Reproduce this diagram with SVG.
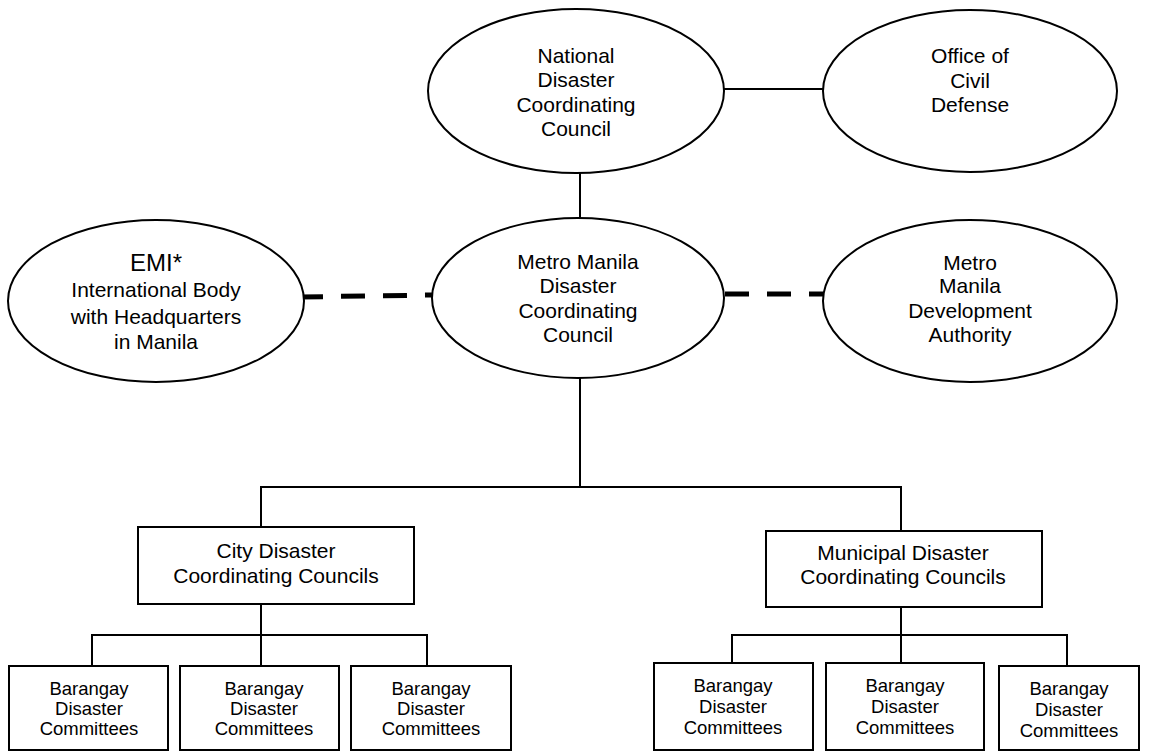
<svg xmlns="http://www.w3.org/2000/svg" width="1150" height="753" viewBox="0 0 1150 753">
<style>
.shape{fill:#fff;stroke:#000;stroke-width:2}
.ln{stroke:#000;stroke-width:2;fill:none}
.dash{stroke:#000;stroke-width:5;stroke-dasharray:24 18;fill:none}
text{font-family:"Liberation Sans",Arial,sans-serif;fill:#000;text-anchor:middle}
.t21{font-size:21px}
.t24{font-size:24px}
.t18{font-size:18.5px}
</style>
<rect width="1150" height="753" fill="#fff"/>
<g id="connectors">
<line class="ln" x1="723" y1="89" x2="823" y2="89"/>
<line class="ln" x1="580" y1="172" x2="580" y2="220"/>
<line class="dash" x1="299" y1="297" x2="432" y2="295"/>
<line class="dash" x1="725" y1="294" x2="823" y2="294"/>
<line class="ln" x1="580" y1="376" x2="580" y2="487"/>
<polyline class="ln" points="261,527 261,487 901,487 901,531"/>
<line class="ln" x1="261" y1="604" x2="261" y2="635"/>
<polyline class="ln" points="92,666 92,635 427,635 427,666"/>
<line class="ln" x1="261" y1="635" x2="261" y2="666"/>
<line class="ln" x1="901" y1="607" x2="901" y2="635"/>
<polyline class="ln" points="732,663 732,635 1067,635 1067,666"/>
<line class="ln" x1="901" y1="635" x2="901" y2="663"/>
</g>
<g id="ndcc">
<ellipse class="shape" cx="576" cy="91" rx="148" ry="82"/>
<text class="t21"><tspan x="576" y="63">National</tspan><tspan x="576" y="87">Disaster</tspan><tspan x="576" y="112">Coordinating</tspan><tspan x="576" y="136">Council</tspan></text>
</g>
<g id="ocd">
<ellipse class="shape" cx="970" cy="91" rx="147" ry="81"/>
<text class="t21"><tspan x="970" y="63">Office of</tspan><tspan x="970" y="88">Civil</tspan><tspan x="970" y="112">Defense</tspan></text>
</g>
<g id="emi">
<ellipse class="shape" cx="156" cy="301" rx="148" ry="81"/>
<text class="t24" x="156" y="271">EMI*</text>
<text class="t21"><tspan x="156" y="297">International Body</tspan><tspan x="156" y="324">with Headquarters</tspan><tspan x="156" y="349">in Manila</tspan></text>
</g>
<g id="mmdcc">
<ellipse class="shape" cx="578" cy="298" rx="146" ry="80"/>
<text class="t21"><tspan x="578" y="269">Metro Manila</tspan><tspan x="578" y="293">Disaster</tspan><tspan x="578" y="318">Coordinating</tspan><tspan x="578" y="342">Council</tspan></text>
</g>
<g id="mmda">
<ellipse class="shape" cx="970" cy="301" rx="147" ry="81"/>
<text class="t21"><tspan x="970" y="270">Metro</tspan><tspan x="970" y="293">Manila</tspan><tspan x="970" y="318">Development</tspan><tspan x="970" y="342">Authority</tspan></text>
</g>
<g id="city">
<rect class="shape" x="138" y="527" width="276" height="77"/>
<text class="t21"><tspan x="276" y="558">City Disaster</tspan><tspan x="276" y="583">Coordinating Councils</tspan></text>
</g>
<g id="municipal">
<rect class="shape" x="766" y="531" width="276" height="76"/>
<text class="t21"><tspan x="903" y="560">Municipal Disaster</tspan><tspan x="903" y="584">Coordinating Councils</tspan></text>
</g>
<g id="bdc-c1">
<rect class="shape" x="9" y="666" width="159" height="84"/>
<text class="t18"><tspan x="89" y="695">Barangay</tspan><tspan x="89" y="715">Disaster</tspan><tspan x="89" y="735">Committees</tspan></text>
</g>
<g id="bdc-c2">
<rect class="shape" x="180" y="666" width="159" height="84"/>
<text class="t18"><tspan x="264" y="695">Barangay</tspan><tspan x="264" y="715">Disaster</tspan><tspan x="264" y="735">Committees</tspan></text>
</g>
<g id="bdc-c3">
<rect class="shape" x="351" y="666" width="160" height="84"/>
<text class="t18"><tspan x="431" y="695">Barangay</tspan><tspan x="431" y="715">Disaster</tspan><tspan x="431" y="735">Committees</tspan></text>
</g>
<g id="bdc-m1">
<rect class="shape" x="654" y="663" width="159" height="87"/>
<text class="t18"><tspan x="733" y="692">Barangay</tspan><tspan x="733" y="713">Disaster</tspan><tspan x="733" y="734">Committees</tspan></text>
</g>
<g id="bdc-m2">
<rect class="shape" x="826" y="663" width="158" height="87"/>
<text class="t18"><tspan x="905" y="692">Barangay</tspan><tspan x="905" y="713">Disaster</tspan><tspan x="905" y="734">Committees</tspan></text>
</g>
<g id="bdc-m3">
<rect class="shape" x="999" y="666" width="140" height="84"/>
<text class="t18"><tspan x="1069" y="695">Barangay</tspan><tspan x="1069" y="716">Disaster</tspan><tspan x="1069" y="737">Committees</tspan></text>
</g>
</svg>
